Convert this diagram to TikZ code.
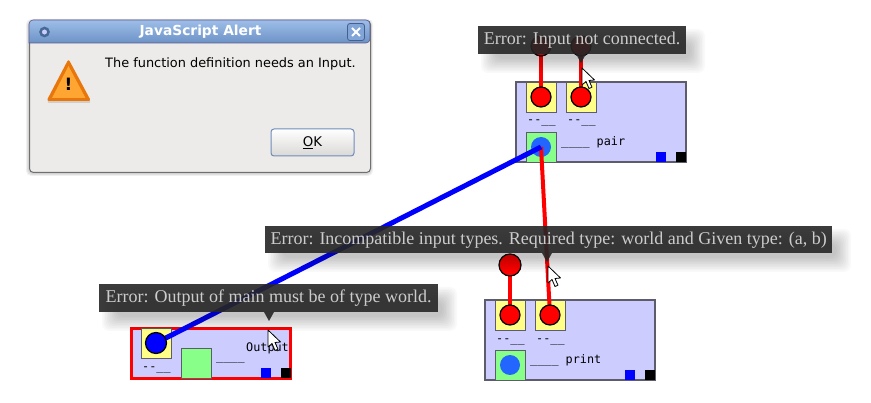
\documentclass[tikz,border=0pt]{standalone}
\usepackage{fontspec}
\setmainfont{DejaVu Sans}
\newfontfamily\tipfont{Liberation Serif}
\newfontfamily\monof{DejaVu Sans Mono}
\usetikzlibrary{calc}
\pgfdeclarelayer{blocks}\pgfdeclarelayer{wires}\pgfdeclarelayer{tips}
\pgfsetlayers{blocks,wires,main,tips}
\definecolor{blockfill}{HTML}{CCCCFF}
\definecolor{portyellow}{HTML}{FFFF88}
\definecolor{portgreen}{HTML}{88FF88}
\definecolor{portblue}{HTML}{2266FF}
\definecolor{edgegrey}{HTML}{5C5C6A}
\definecolor{tipdark}{HTML}{262626}
\definecolor{tiptext}{HTML}{CCCCCC}
\definecolor{dlgbg}{HTML}{ECEBE9}
\definecolor{dlgedge}{HTML}{707070}
\tikzset{
 x=1pt,y=-1pt,
 blockbox/.style={draw=edgegrey,line width=1.4pt,fill=blockfill,minimum width=170pt,minimum height=80pt,inner sep=0pt,outer sep=0pt,anchor=north west},
 errbox/.style={draw=red,line width=3pt,fill=blockfill,minimum width=159pt,minimum height=50pt,inner sep=0pt,outer sep=0pt,anchor=north west},
 inport/.style={draw=edgegrey,line width=1.4pt,fill=portyellow,minimum size=30pt,inner sep=0pt,anchor=north west},
 outport/.style={draw=edgegrey,line width=1.4pt,fill=portgreen,minimum size=30pt,inner sep=0pt,anchor=north west},
 dot/.style={circle,draw=black,line width=1.2pt,fill=#1,minimum size=20pt,inner sep=0pt},
 outdot/.style={circle,fill=portblue,minimum size=20pt,inner sep=0pt},
 tag/.style={minimum size=10pt,inner sep=0pt,anchor=north west,fill=#1},
 mono/.style={font=\monof\fontsize{11.8}{12}\selectfont,inner sep=0pt,text=black,anchor=base west},
 tip/.style={fill=tipdark,fill opacity=0.9,text opacity=1,text=tiptext,font=\tipfont\fontsize{18}{18}\selectfont,inner sep=0pt,anchor=north west,minimum height=28pt,align=center},
 redwire/.style={draw=red,line width=4pt},
 bluewire/.style={draw=blue,line width=5pt},
 cursor/.style={fill=white,draw=black,line width=0.8pt,line join=round},
}
\newcommand{\softshadow}[4]{%
 \foreach \k in {0,...,9}{
  \fill[black,opacity=0.022,rounded corners=7pt] ({#1+3+\k*1.6},{#2+3+\k*1.6}) rectangle ({#3+19-\k*1.6},{#4+19-\k*1.6});
 }}
\newcommand{\arrowcursor}[2]{%
 \draw[cursor] (#1,#2) -- ++(0,17) -- ++(4,-3.5) -- ++(3,7) -- ++(3,-1.3) -- ++(-3,-6.7) -- ++(5.5,-0.5) -- cycle;}
\begin{document}
\begin{tikzpicture}
\useasboundingbox (0,0) rectangle (871,403);
\begin{pgfonlayer}{blocks}
\fill[white] (0,0) rectangle (871,403);
\end{pgfonlayer}

% Dialog
\foreach \k in {0,...,4}{
 \fill[black,opacity=0.05,rounded corners=5pt] ({29-3+\k*0.8},{20-1+\k*0.8}) rectangle ({370+3-\k*0.8},{172+4-\k*0.8});
}
\node[draw=dlgedge,line width=1pt,fill=dlgbg,rounded corners=4pt,minimum width=341pt,minimum height=152pt,inner sep=0pt,anchor=north west] (dialog) at (29,20) {};
\path[top color={rgb,255:red,158;green,190;blue,232},bottom color={rgb,255:red,108;green,146;blue,198},draw=dlgedge!80!blue,line width=0.6pt,rounded corners=4pt]
 (29,43) -- (29,20) -- (370,20) -- (370,43) [sharp corners] -- cycle;
\node[text=white,font=\bfseries\fontsize{13.8}{14}\selectfont,inner sep=0pt] (title) at (200.5,32) {JavaScript Alert};
\node[circle,draw={rgb,255:red,70;green,105;blue,150},line width=2.5pt,fill=white!80!blue,minimum size=8pt,inner sep=0pt] (chrome) at (44.5,32) {};
\node[draw={rgb,255:red,70;green,95;blue,140},fill={rgb,255:red,130;green,165;blue,215},rounded corners=2.5pt,line width=0.8pt,minimum width=17pt,minimum height=17pt,inner sep=0pt] (closebtn) at (356,32) {};
\draw[white,line width=2pt] (352,28) -- (360,36) (360,28) -- (352,36);
\node[font=\fontsize{12.9}{13}\selectfont,text=black,inner sep=0pt,anchor=base west] (msg) at (105,68) {The function definition needs an Input.};
% warning icon
\fill[black,opacity=0.12,rounded corners=2pt] (47,103) -- (68.5,61) -- (91,103) -- cycle;
\fill[fill={rgb,255:red,232;green,118;blue,10},rounded corners=2.5pt] (46.5,101) -- (68.5,59) -- (91,101) -- cycle;
\fill[fill={rgb,255:red,255;green,165;blue,50},line join=round] (52,98) -- (68.5,66) -- (85.5,98) -- cycle;
\node[font=\bfseries\fontsize{17}{17}\selectfont,text=black,inner sep=0pt] (bang) at (68.5,84) {!};
% OK button
\node[draw={rgb,255:red,110;green,140;blue,185},line width=1pt,rounded corners=3pt,top color=white,bottom color=dlgbg!92!black,minimum width=83pt,minimum height=27pt,inner sep=0pt,font=\fontsize{13.3}{13.3}\selectfont,text=black] (okbtn) at (312.5,142.5) {\underline{O}K};

% Blocks
\begin{pgfonlayer}{blocks}
\node[blockbox] (pair) at (516,82) {};
\node[inport] (pi1) at (526,82) {};
\node[inport] (pi2) at (566,82) {};
\node[outport] (po) at (526,132) {};
\node[outdot] (pod) at (541,147) {};
\node[tag=blue] (pb) at (656,152) {};
\node[tag=black] (pk) at (676,152) {};

\node[blockbox] (print) at (485,300) {};
\node[inport] (ri1) at (495,300) {};
\node[inport] (ri2) at (535,300) {};
\node[outport] (ro) at (495,350) {};
\node[outdot] (rod) at (510,365) {};
\node[tag=blue] (rb) at (625,370) {};
\node[tag=black] (rk) at (645,370) {};

\node[errbox] (mainb) at (131.5,328.5) {};
\node[inport] (mi1) at (141,328) {};
\node[outport] (mo) at (181,348) {};
\node[tag=blue] (mb) at (261,368) {};
\node[tag=black] (mk) at (281,368) {};
\end{pgfonlayer}

% Circles
\node[dot=red] (pd1) at (541,97) {};
\node[dot=red] (pd2) at (581,97) {};
\node[dot=red] (pt1) at (541,46) {};
\node[dot=red] (pt2) at (581,46) {};
\node[dot=red] (rd1) at (510,315) {};
\node[dot=red] (rd2) at (550,315) {};
\node[dot=red,minimum size=22pt] (rt1) at (510,265) {};
\node[dot=blue,minimum size=21pt] (md1) at (156,343) {};

% Connectors
\begin{pgfonlayer}{wires}
\draw[redwire] (pt1.center) -- (pd1.center);
\draw[redwire] (pt2.center) -- (pd2.center);
\draw[redwire] (rt1.center) -- (rd1.center);
\draw[redwire] (pod.center) -- (rd2.center);
\draw[bluewire] (pod.center) -- (md1.center);
\end{pgfonlayer}

% Labels
\node[mono] (l1) at (527,124) {--\_\_};
\node[mono] (l2) at (567,124) {--\_\_};
\node[mono] (l3) at (561,146) {\_\_\_\_ pair};
\node[mono] (l4) at (496,343) {--\_\_};
\node[mono] (l5) at (536,343) {--\_\_};
\node[mono] (l6) at (530,364) {\_\_\_\_ print};
\node[mono] (l7) at (142,371) {--\_\_};
\node[mono] (l8) at (216,361) {\_\_\_\_};
\node[mono] (l9) at (246,352) {Output};

% Tooltips
\begin{pgfonlayer}{tips}
\softshadow{478}{26}{686}{54}
\softshadow{265}{226}{832}{253}
\softshadow{99}{284}{438}{312}
\node[tip,minimum width=208pt] (t1) at (478,26) {Error: Input not connected.};
\fill[tipdark,fill opacity=0.9] (576,54) -- (586,54) -- (581,63) -- cycle;
\node[tip,minimum width=567pt,minimum height=27pt] (t2) at (265,226) {Error: Incompatible input types. Required type: world and Given type: (a, b)};
\fill[tipdark,fill opacity=0.9] (542,253) -- (552,253) -- (547,262) -- cycle;
\node[tip,minimum width=339pt] (t3) at (99,284) {Error: Output of main must be of type world.};
\fill[tipdark,fill opacity=0.9] (264,312) -- (274,312) -- (269,321) -- cycle;
\arrowcursor{582}{68}
\arrowcursor{548}{266}
\arrowcursor{268}{330}
\end{pgfonlayer}
\end{tikzpicture}
\end{document}
